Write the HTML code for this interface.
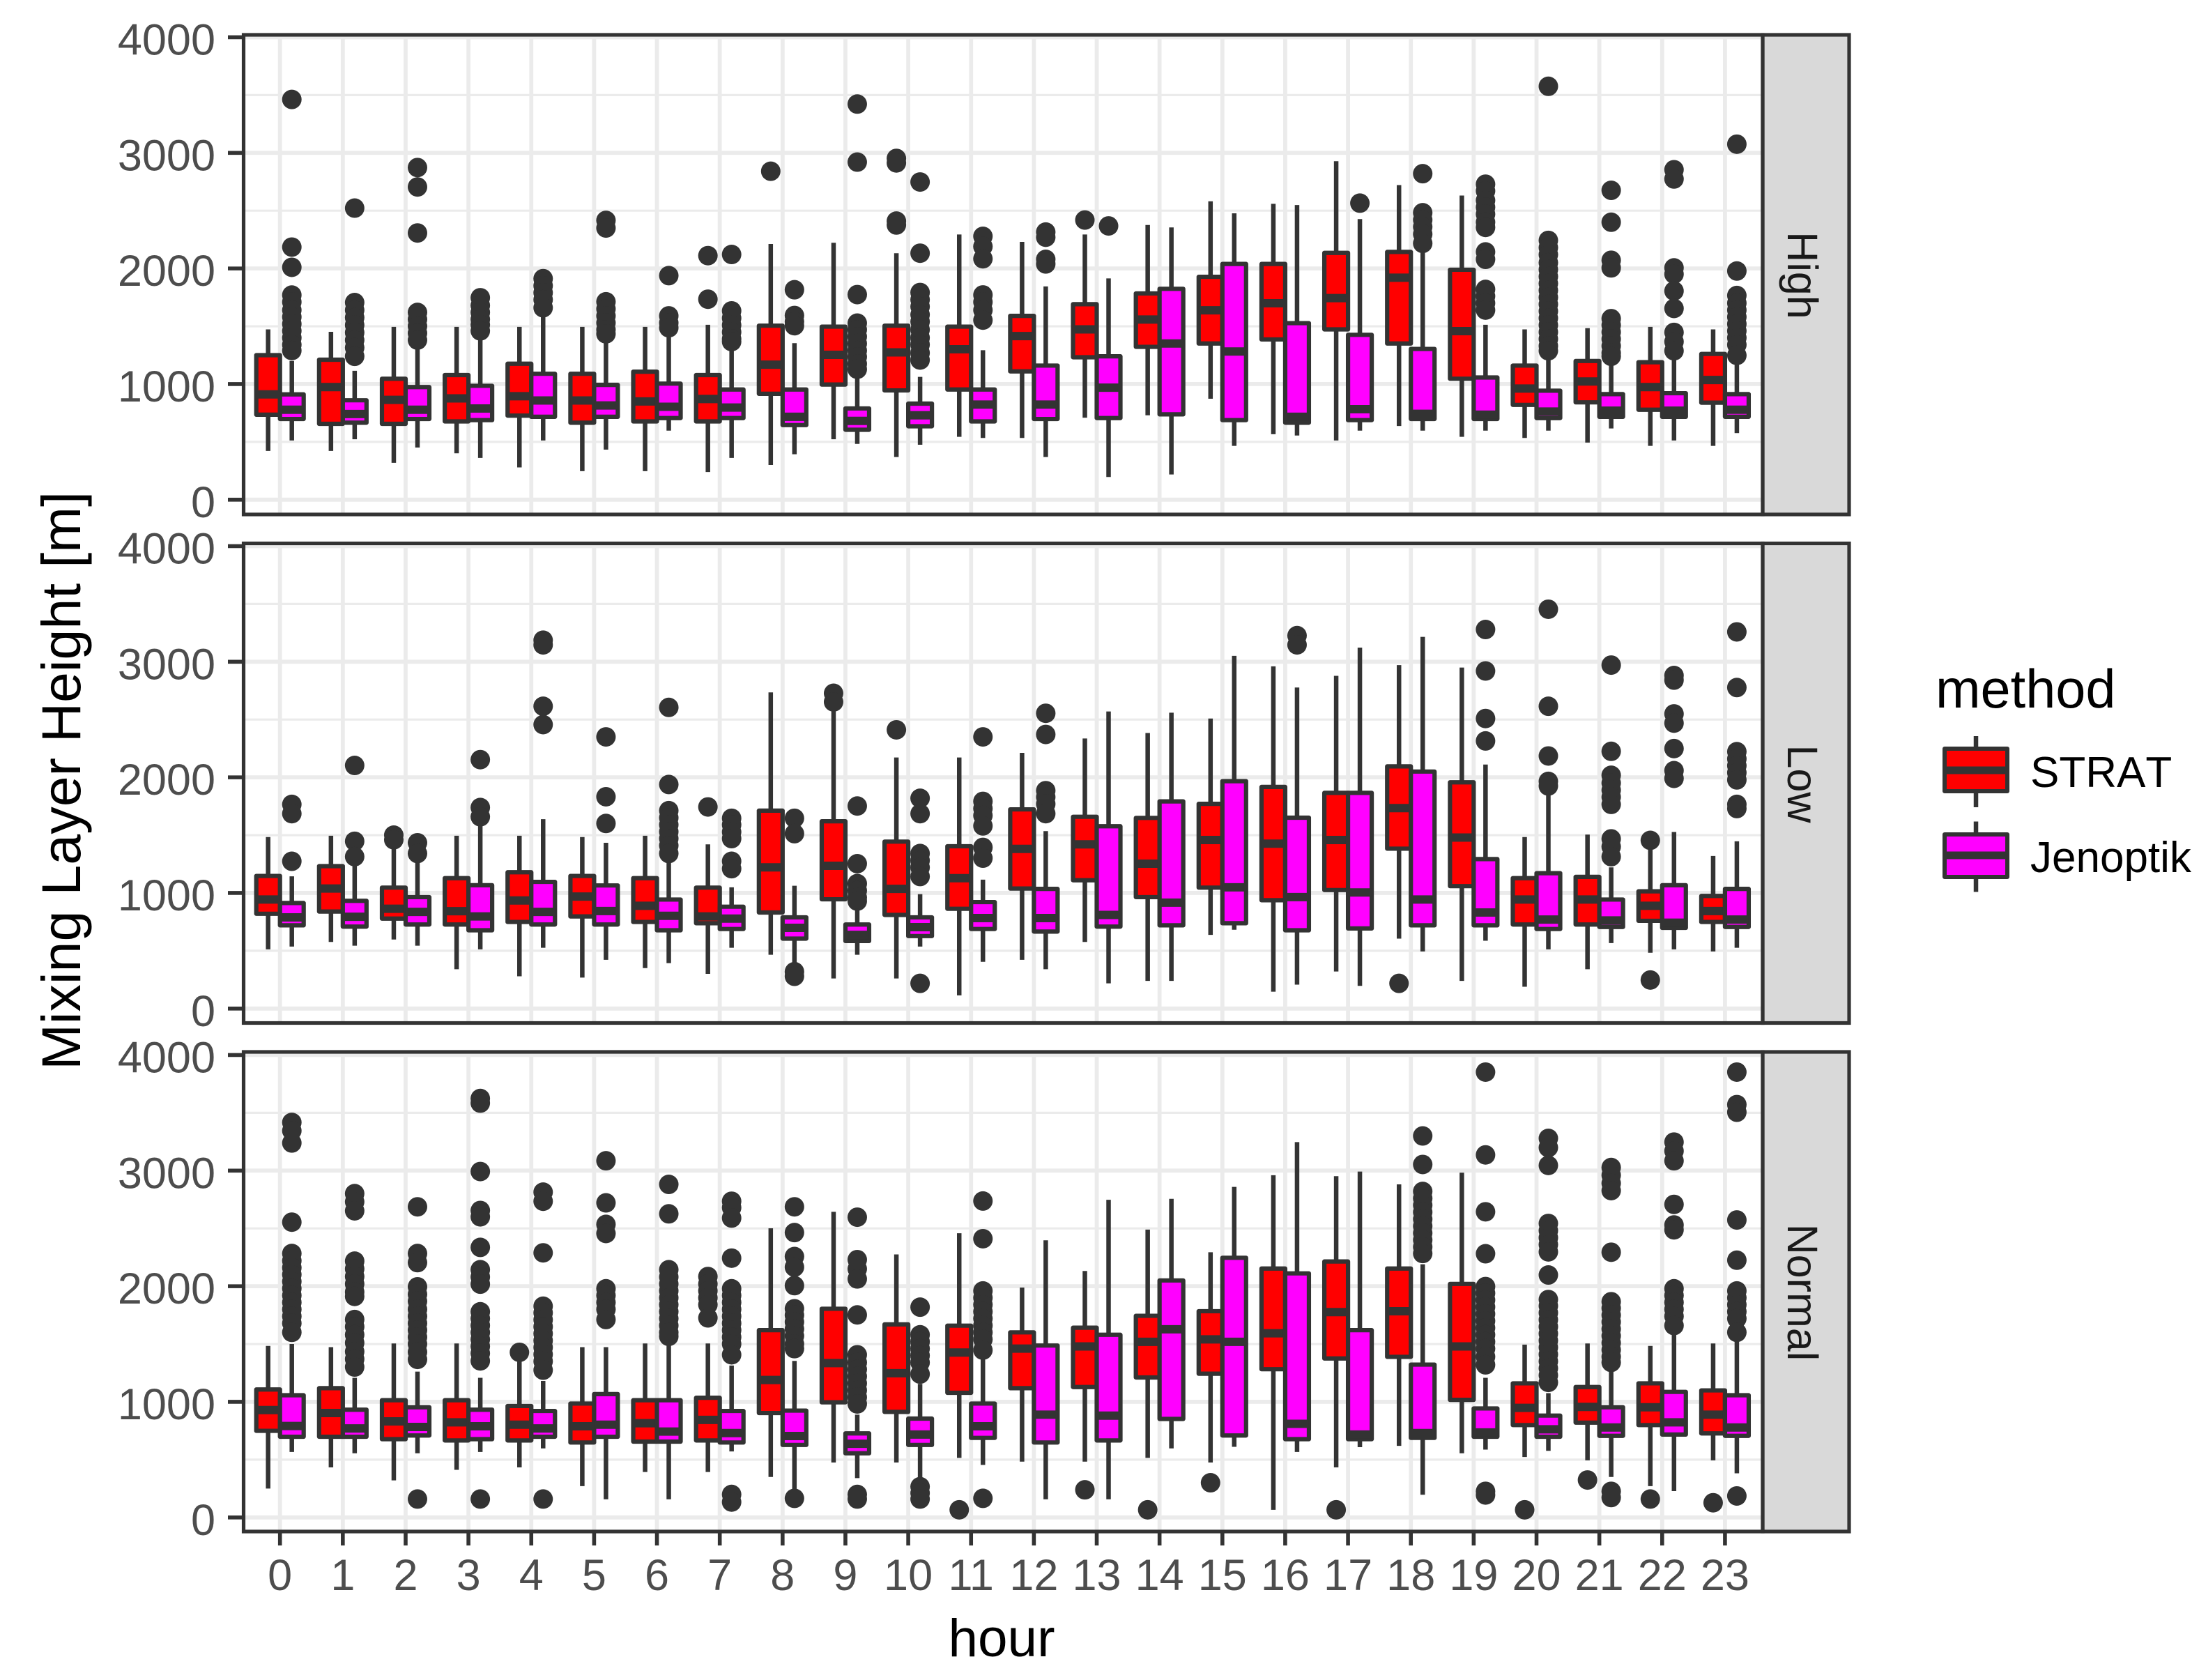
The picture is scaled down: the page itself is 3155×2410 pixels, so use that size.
<!DOCTYPE html>
<html lang="en">
<head>
<meta charset="utf-8">
<title>Mixing Layer Height by hour</title>
<style>
html,body{margin:0;padding:0;background:#fff;}
svg{display:block;font-family:"Liberation Sans",Arial,sans-serif;}
</style>
</head>
<body>
<svg id="chart" xmlns="http://www.w3.org/2000/svg" width="3155" height="2410" viewBox="0 0 3155 2410">
  <rect x="0" y="0" width="3155" height="2410" fill="#ffffff"/>
  <g id="panels"></g>
  <text transform="translate(115,1120) rotate(-90)" text-anchor="middle" font-size="79" fill="#000">Mixing Layer Height [m]</text>
  <text x="1437" y="2376" text-anchor="middle" font-size="76.5" fill="#000">hour</text>
  <g>
    <text x="2777" y="1015" font-size="77.5" fill="#000">method</text>
    <g>
      <line x1="2835" x2="2835" y1="1056" y2="1158" stroke="#333" stroke-width="6.5"/>
      <rect x="2790" y="1074" width="90" height="61" fill="#ff0000" stroke="#333" stroke-width="6" stroke-linejoin="round"/>
      <line x1="2790" x2="2880" y1="1105" y2="1105" stroke="#333" stroke-width="11"/>
      <text x="2913" y="1129" font-size="62" fill="#000" style="font-kerning:none">STRAT</text>
    </g>
    <g>
      <line x1="2835" x2="2835" y1="1178.5" y2="1279.5" stroke="#333" stroke-width="6.5"/>
      <rect x="2790" y="1197" width="90" height="61" fill="#ff00ff" stroke="#333" stroke-width="6" stroke-linejoin="round"/>
      <line x1="2790" x2="2880" y1="1227" y2="1227" stroke="#333" stroke-width="11"/>
      <text x="2913" y="1251" font-size="62" fill="#000">Jenoptik</text>
    </g>
  </g>
</svg>
<script>
const hours = ["0","1","2","3","4","5","6","7","8","9","10","11","12","13","14","15","16","17","18","19","20","21","22","23"];
const yTicks = [0,1000,2000,3000,4000];
const yMinorTicks = [500,1500,2500,3500];
const yTickLabels = ["0","1000","2000","3000","4000"];
const facetNames = ["High","Low","Normal"];

// each row: [whisker low, q1, median, q3, whisker high], one row per hour
const highStrat = [
[422,735,911,1250,1473],[422,656,974,1211,1452],[319,656,863,1046,1495],[401,677,876,1078,1495],
[279,727,895,1176,1495],[247,666,858,1089,1495],[247,677,850,1107,1495],[239,677,871,1078,1513],
[300,916,1168,1505,2212],[523,996,1253,1497,2222],[369,945,1274,1505,2132],[544,953,1301,1497,2294],
[534,1110,1415,1590,2230],[709,1232,1473,1691,2294],[730,1322,1558,1784,2376],[873,1351,1638,1928,2581],
[566,1386,1699,2039,2559],[512,1473,1744,2135,2928],[637,1351,1920,2143,2721],[544,1046,1458,1989,2631],
[534,820,961,1160,1473],[494,842,1022,1200,1484],[465,778,974,1189,1495],[465,839,1035,1261,1473]];
const highJenoptik = [
[512,698,778,911,1200],[523,666,741,860,1115],[451,698,778,974,1300],[361,688,789,985,1380],
[512,717,858,1089,1593],[433,717,815,993,1354],[597,706,804,1004,1407],[361,706,797,953,1288],
[393,645,717,953,1354],[483,605,682,789,1049],[475,635,730,831,1062],[534,677,823,953,1293],
[369,698,823,1160,1845],[196,706,969,1240,1914],[218,738,1351,1824,2355],[465,688,1282,2039,2477],
[555,666,717,1527,2549],[597,688,783,1426,2427],[597,698,743,1304,2151],[597,698,735,1057,1513],
[597,706,762,943,1208],[616,717,770,913,1160],[512,717,770,921,1208],[576,717,778,913,1168]];
const highStratOutliers = [[],[],[],[],[],[],[],[2111,1734],[2841],[],[2952,2913,2410,2376],[],[],[2419],[],[],[],[],[],[],[],[],[],[]];
const highJenoptikOutliers = [
[3462,2185,2010,1770,1710,1640,1580,1520,1460,1400,1340,1290],
[2522,1705,1640,1575,1510,1445,1380,1315,1240],
[2873,2705,2307,1620,1560,1500,1440,1380],
[1747,1680,1620,1560,1513,1460],
[1912,1850,1790,1730,1660],
[2416,2350,1712,1650,1590,1530,1470,1434],
[1938,1590,1530,1487],
[2121,1633,1570,1510,1450,1390,1367],
[1816,1593,1540,1505],
[3422,2920,1774,1527,1470,1410,1350,1290,1235,1175,1128],
[2748,2132,1792,1730,1670,1600,1540,1470,1400,1341,1270,1208],
[2278,2190,2084,1771,1710,1640,1553],
[2315,2270,2079,2039],[2368],[],[],
[],[2565],
[2820,2482,2420,2360,2297,2217],
[2729,2670,2589,2530,2470,2400,2355,2143,2079,1819,1760,1700,1640],
[3576,2243,2180,2120,2050,1990,1930,1870,1810,1750,1690,1630,1570,1510,1450,1390,1330,1288],
[2676,2400,2071,2005,1566,1510,1450,1390,1330,1270,1240],
[2854,2774,2005,1951,1805,1654,1447,1367,1288],
[3075,1978,1766,1700,1640,1580,1520,1460,1400,1340,1248]];

const lowStrat = [
[512,820,943,1147,1484],[576,839,1038,1232,1495],[597,778,863,1046,1394],[340,727,842,1128,1495],
[279,749,935,1179,1495],[268,797,969,1147,1484],[350,749,889,1128,1495],[300,738,797,1046,1420],
[465,831,1221,1712,2735],[260,945,1235,1620,2575],[260,810,1035,1444,2172],[114,863,1128,1404,2172],
[422,1038,1381,1723,2212],[576,1110,1420,1659,2336],[239,964,1253,1649,2384],[637,1046,1458,1771,2509],
[146,937,1426,1917,2960],[321,1025,1458,1866,2878],[605,1383,1734,2095,2971],[239,1059,1479,1957,2950],
[189,727,943,1128,1484],[340,727,943,1139,1505],[483,759,889,1014,1381],[494,749,844,974,1320]];
const lowJenoptik = [
[536,720,789,913,1144],[544,709,794,932,1235],[544,727,836,964,1261],[512,677,797,1067,1580],
[526,727,836,1096,1638],[422,727,844,1065,1434],[393,677,802,943,1261],[526,688,778,881,1049],
[385,605,698,789,1062],[465,584,637,727,863],[536,627,704,789,990],[404,688,783,921,1115],
[340,666,783,1035,1535],[218,709,810,1577,2570],[239,720,916,1792,2559],[682,738,1049,1967,3051],
[207,677,964,1651,2777],[196,693,1004,1866,3122],[494,720,943,2050,3215],[587,720,831,1293,2111],
[512,688,770,1171,1845],[566,706,762,943,1221],[512,698,743,1067,1527],[526,706,770,1035,1447]];
const lowStratOutliers = [[],[],[1500,1460],[],[],[],[],[1744],[],[2727,2652],[2411],[],[],[],[],[],[],[],[218],[],[],[],[1455,247],[]];
const lowJenoptikOutliers = [
[1766,1686,1274],[2103,1447,1314],[1434,1341],[2153,1739,1659],
[3186,3146,2615,2456],[2350,1832,1601],
[2605,1938,1712,1650,1590,1530,1470,1410,1341],
[1646,1590,1527,1470,1274,1210],
[1646,1513,319,279],
[1752,1253,1081,1020,960,929],
[1819,1686,1341,1280,1220,1142,218],
[2350,1792,1730,1670,1580,1394,1301],
[2554,2371,1885,1830,1770,1686],[],[],[],
[3226,3146],[],[],[3279,2920,2509,2315],
[3454,2615,2185,1965,1925],
[2971,2225,2018,1951,1890,1830,1766,1468,1400,1314],
[2881,2841,2549,2469,2249,2058,1991],
[3258,2777,2222,2160,2100,2040,1978,1766,1730]];

const normalStrat = [
[250,749,929,1107,1484],[433,698,903,1118,1473],[321,677,831,1014,1505],[412,666,823,1014,1505],
[433,666,802,964,1420],[271,648,789,985,1473],[393,656,815,1014,1505],[393,666,844,1035,1505],
[350,903,1189,1620,2501],[475,996,1335,1805,2644],[475,913,1248,1670,2275],[515,1078,1426,1659,2458],
[483,1118,1460,1601,1989],[483,1128,1479,1641,2132],[515,1211,1519,1744,2490],[475,1243,1540,1784,2294],
[66,1282,1593,2153,2960],[433,1375,1776,2214,2952],[619,1389,1784,2153,2881],[555,1017,1479,2020,2982],
[523,799,948,1160,1495],[494,820,956,1128,1505],[271,799,953,1160,1484],[494,727,889,1099,1505]];
const normalJenoptik = [
[566,698,791,1057,1500],[555,698,770,932,1208],[555,709,783,953,1261],[566,677,789,932,1208],
[597,698,770,921,1181],[157,698,802,1067,1473],[157,656,743,1014,1500],[571,648,730,921,1314],
[159,627,704,924,1354],[340,555,637,727,889],[345,627,717,855,1155],[454,688,789,985,1367],
[157,648,889,1487,2397],[157,666,881,1580,2748],[597,852,1628,2050,2756],[611,709,1519,2246,2859],
[566,677,810,2111,3247],[608,677,717,1620,2992],[196,688,730,1322,2190],[587,698,735,943,1208],
[576,698,762,881,1075],[350,706,778,953,1261],[228,717,823,1086,1593],[382,706,778,1057,1527]];
const normalStratOutliers = [[],[],[],[],[1428],[],[],[2084,2020,1960,1900,1840,1726],[],[],[],[66],[],[239],[66],[300],[],[66],[],[],[66],[324],[159],[127]];
const normalJenoptikOutliers = [
[3417,3345,3239,2554,2283,2220,2160,2100,2040,1980,1920,1860,1800,1740,1680,1601],
[2801,2730,2652,2217,2150,2084,2020,1950,1912,1712,1650,1580,1510,1434,1370,1301],
[2687,2283,2204,1995,1930,1870,1800,1740,1680,1620,1560,1500,1430,1367,159],
[3624,3584,2992,2655,2600,2336,2143,2080,2018,1779,1720,1660,1600,1540,1480,1420,1354,159],
[2814,2735,2289,1827,1770,1710,1650,1590,1530,1470,1410,1350,1274,159],
[3085,2721,2535,2456,1978,1920,1860,1800,1712],
[2881,2626,2143,2080,2020,1960,1900,1840,1780,1720,1660,1600,1566],
[2735,2680,2590,2243,1978,1920,1860,1800,1740,1680,1620,1560,1500,1407,199,133],
[2687,2464,2257,2165,2005,1805,1750,1690,1630,1570,1500,1460,165],
[2597,2230,2150,2063,1752,1407,1340,1280,1220,1160,1100,1040,982,199,159],
[1819,1580,1520,1460,1400,1340,1240,266,210,159],
[2737,2411,1959,1900,1840,1780,1720,1660,1600,1540,1447,165],
[],[],[],[],
[],[],
[3300,3053,2820,2760,2700,2640,2580,2520,2460,2400,2340,2283],
[3852,3136,2644,2281,1997,1940,1880,1820,1760,1700,1640,1580,1520,1460,1390,1320,226,194],
[3279,3199,3045,2543,2480,2420,2360,2297,2097,1885,1830,1770,1710,1650,1590,1530,1470,1410,1350,1290,1230,1168],
[3027,2960,2890,2827,2294,1866,1810,1750,1690,1630,1570,1510,1450,1390,1341,226,172],
[3247,3170,3085,2708,2530,2488,1978,1920,1860,1800,1740,1660],
[3852,3571,3505,2573,2225,1959,1900,1840,1780,1720,1601,186]];

const NS = "http://www.w3.org/2000/svg";
const panelsGroup = document.getElementById("panels");

const panelLeft = 349.5, panelRight = 2529, stripRight = 2653;
const panelHeight = 688;
const panelTops = [50, 779.5, 1509];
const panelBaselines = [716.8, 1446.8, 2176.8];
const pxPerUnit = 0.16584;
const xStart = 401.7, xStep = 90.14;
const dodge = 17, boxWidth = 34;

function xScale(i) { return xStart + xStep * i; }
function yScale(panel, v) { return panelBaselines[panel] - v * pxPerUnit; }

function svgEl(tag, attrs, parent) {
  const el = document.createElementNS(NS, tag);
  for (const k in attrs) el.setAttribute(k, attrs[k]);
  parent.appendChild(el);
  return el;
}

function drawBox(parent, panel, hour, offset, fill, stats, outliers, label) {
  const g = svgEl("g", {}, parent);
  
  
  const cx = xScale(hour) + offset;
  outliers.forEach(function (v) {
    const dot = svgEl("circle", {cx: cx, cy: yScale(panel, v), r: 14, fill: "#333333"}, g);
    
    
  });
  const whisker = svgEl("line", {x1: cx, x2: cx, y1: yScale(panel, stats[0]), y2: yScale(panel, stats[4]), stroke: "#333333", "stroke-width": 6.5}, g);
  
  
  const yQ3 = yScale(panel, stats[3]), yQ1 = yScale(panel, stats[1]);
  const box = svgEl("rect", {x: cx - boxWidth / 2, y: yQ3, width: boxWidth, height: yQ1 - yQ3, fill: fill, stroke: "#333333", "stroke-width": 6.2, "stroke-linejoin": "round"}, g);
  
  
  const yMed = yScale(panel, stats[2]);
  const median = svgEl("line", {x1: cx - boxWidth / 2, x2: cx + boxWidth / 2, y1: yMed, y2: yMed, stroke: "#333333", "stroke-width": 12}, g);
  
  
}

const panelSeries = [
  {strat: highStrat, stratOut: highStratOutliers, jen: highJenoptik, jenOut: highJenoptikOutliers},
  {strat: lowStrat, stratOut: lowStratOutliers, jen: lowJenoptik, jenOut: lowJenoptikOutliers},
  {strat: normalStrat, stratOut: normalStratOutliers, jen: normalJenoptik, jenOut: normalJenoptikOutliers}
];

panelSeries.forEach(function (series, p) {
  const key = facetNames[p].toLowerCase();
  const top = panelTops[p], bottom = top + panelHeight;
  const g = svgEl("g", {}, panelsGroup);
  
  

  const bg = svgEl("rect", {x: panelLeft, y: top, width: panelRight - panelLeft, height: panelHeight, fill: "#ffffff"}, g);
  
  

  yMinorTicks.forEach(function (v) {
    const gl = svgEl("line", {x1: panelLeft, x2: panelRight, y1: yScale(p, v), y2: yScale(p, v), stroke: "#ebebeb", "stroke-width": 3.2}, g);
    
    
  });
  yTicks.forEach(function (v) {
    const gl = svgEl("line", {x1: panelLeft, x2: panelRight, y1: yScale(p, v), y2: yScale(p, v), stroke: "#ebebeb", "stroke-width": 5.8}, g);
    
    
  });
  hours.forEach(function (h, i) {
    const gl = svgEl("line", {x1: xScale(i), x2: xScale(i), y1: top, y2: bottom, stroke: "#ebebeb", "stroke-width": 5.8}, g);
    
    
  });

  hours.forEach(function (h, i) {
    drawBox(g, p, i, -dodge, "#ff0000", series.strat[i], series.stratOut[i], key + '-strat');
    drawBox(g, p, i, dodge, "#ff00ff", series.jen[i], series.jenOut[i], key + '-jenoptik');
  });

  const strip = svgEl("rect", {x: panelRight, y: top, width: stripRight - panelRight, height: panelHeight, fill: "#d9d9d9", stroke: "#333333", "stroke-width": 5.2}, g);
  
  
  const stripLabel = svgEl("text", {transform: "translate(2565," + (top + panelHeight / 2 + 1) + ") rotate(90)", "text-anchor": "middle", "font-size": 61, fill: "#1a1a1a"}, g);
  stripLabel.textContent = facetNames[p];
  
  

  const border = svgEl("rect", {x: panelLeft, y: top, width: panelRight - panelLeft, height: panelHeight, fill: "none", stroke: "#333333", "stroke-width": 5.2}, g);
  
  

  yTicks.forEach(function (v, t) {
    const tk = svgEl("line", {x1: 327, x2: panelLeft, y1: yScale(p, v), y2: yScale(p, v), stroke: "#333333", "stroke-width": 5.6}, g);
    
    
    const lb = svgEl("text", {x: 309, y: yScale(p, v) + 25, "text-anchor": "end", "font-size": 63, fill: "#4d4d4d"}, g);
    lb.textContent = yTickLabels[t];
    
    
  });
});

const xAxisGroup = svgEl("g", {}, panelsGroup);


hours.forEach(function (h, i) {
  const tk = svgEl("line", {x1: xScale(i), x2: xScale(i), y1: panelTops[2] + panelHeight, y2: 2217, stroke: "#333333", "stroke-width": 5.6}, xAxisGroup);
  
  
  const lb = svgEl("text", {x: xScale(i), y: 2281, "text-anchor": "middle", "font-size": 63, fill: "#4d4d4d"}, xAxisGroup);
  lb.textContent = h;
  
  
});
</script>
</body>
</html>
